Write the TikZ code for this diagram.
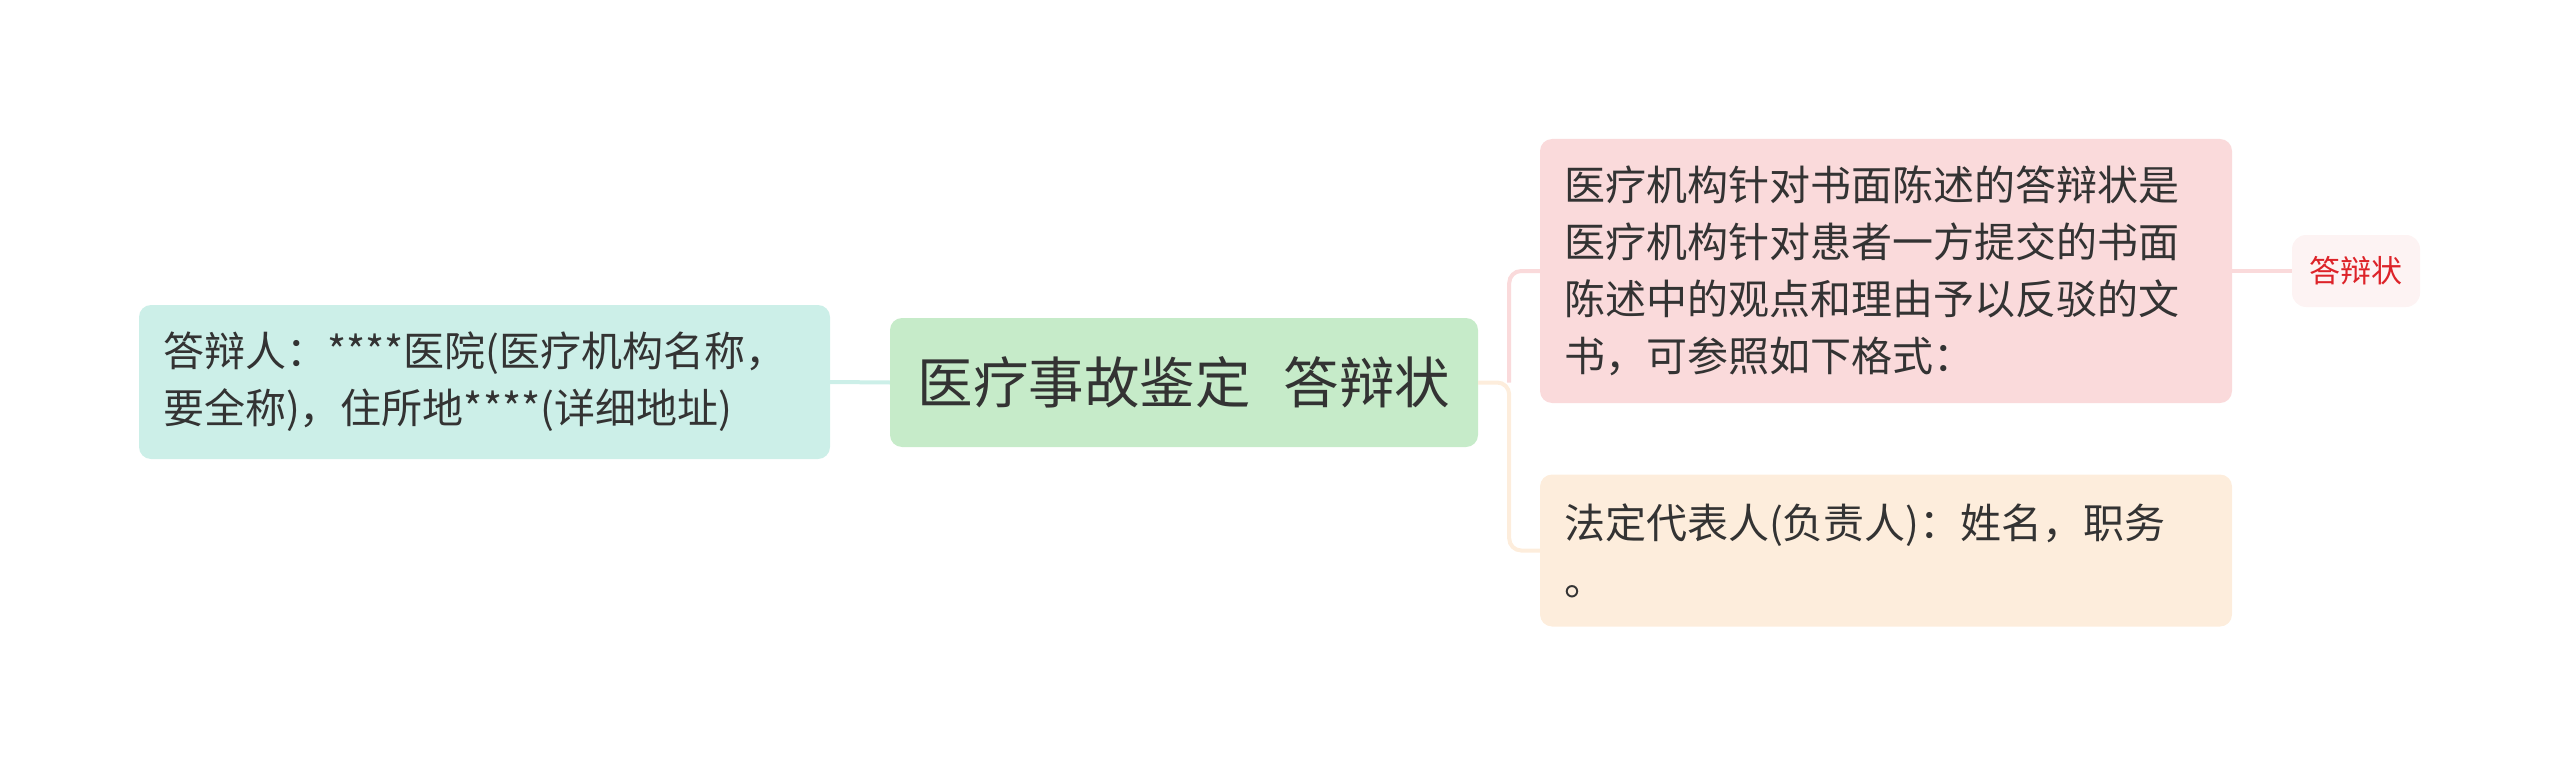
\documentclass[tikz,border=0pt]{standalone}
\usepackage{fontspec}
\setmainfont{Noto Sans CJK SC}
\usetikzlibrary{positioning}
\definecolor{ink color}{HTML}{333333}
\definecolor{root color}{HTML}{C6EBC9}
\definecolor{resp color}{HTML}{CCEFE8}
\definecolor{desc color}{HTML}{FADADB}
\definecolor{rep color}{HTML}{FDEDDC}
\definecolor{tag color}{HTML}{FDF3F3}
\definecolor{tag ink}{HTML}{DD2329}
\tikzset{topic/.style={rounded corners=12pt, inner xsep=24pt, inner ysep=0pt, align=left, text=ink color, font=\fontsize{41}{57}\selectfont}}
\tikzset{link/.style={line width=4pt}}

\begin{document}
\begin{tikzpicture}[x=1pt, y=-1pt]
                \useasboundingbox (0, 0) rectangle (2560, 765);
                
                \node[topic, fill=root color, align=center, inner xsep=0pt, minimum width=588pt, minimum height=129pt, font=\fontsize{55.5}{60}\selectfont] (root) at (1184, 382.5) {医疗事故鉴定\hspace{0.6em}答辩状};
                \node[topic, fill=resp color, text width=643pt, minimum height=154pt] (resp) at (484.5, 382) {答辩人：****医院(医疗机构名称，\\要全称)，住所地****(详细地址)};
                \node[topic, fill=desc color, text width=644pt, minimum height=264pt] (desc) at (1886, 271) {医疗机构针对书面陈述的答辩状是\\医疗机构针对患者一方提交的书面\\陈述中的观点和理由予以反驳的文\\书，可参照如下格式：};
                \node[topic, fill=rep color, text width=644pt, minimum height=152pt] (rep) at (1886, 550.5) {法定代表人(负责人)：姓名，职务\\。};
                \node[topic, fill=tag color, text=tag ink, align=center, inner xsep=0pt, rounded corners=14pt, minimum width=128pt, minimum height=72pt, font=\fontsize{31}{36}\selectfont] (tag) at (2356, 271) {答辩状};
                
                \coordinate[right=31pt of root.east] (fork);
                \draw[link, resp color] (resp.east) -- (root.west);
                \draw[link, desc color, rounded corners=12pt] (fork) |- (desc.west);
                \draw[link, rep color, rounded corners=12pt] (root.east) -- (fork) |- (rep.west);
                \draw[link, desc color] (desc.east) -- (tag.west);
            \end{tikzpicture}
\end{document}
